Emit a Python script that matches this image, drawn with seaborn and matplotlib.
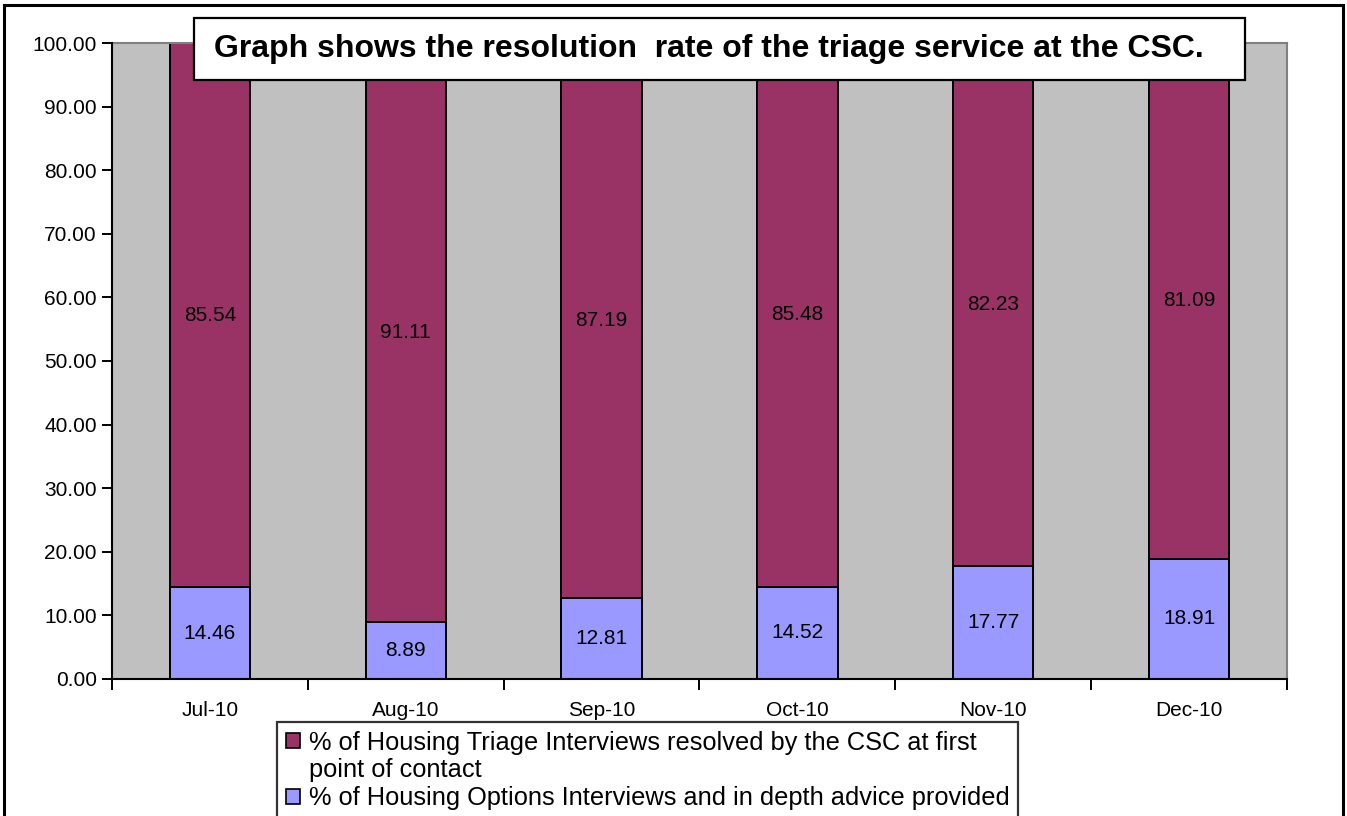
import matplotlib
matplotlib.use("Agg")
import matplotlib.pyplot as plt
import matplotlib.patches as mpatches
import seaborn as sns
import pandas as pd
import numpy as np

months = ["Jul-10", "Aug-10", "Sep-10", "Oct-10", "Nov-10", "Dec-10"]
triage_resolved = [85.54, 91.11, 87.19, 85.48, 82.23, 81.09]
options_advice = [14.46, 8.89, 12.81, 14.52, 17.77, 18.91]
y_ticks = [0, 10, 20, 30, 40, 50, 60, 70, 80, 90, 100]
title_text = "Graph shows the resolution  rate of the triage service at the CSC."
legend_triage = ["% of Housing Triage Interviews resolved by the CSC at first",
                 "point of contact"]
legend_options = "% of Housing Options Interviews and in depth advice provided"

MAROON = "#993366"
LILAC = "#9999FF"
PLOT_BG = "#C0C0C0"

sns.set_style("white")
plt.rcParams["font.family"] = ["Liberation Sans", "DejaVu Sans"]
for key in ["text.color", "xtick.color", "ytick.color", "axes.labelcolor"]:
    plt.rcParams[key] = "black"

df = pd.DataFrame({
    "month": months,
    "triage": triage_resolved,
    "options": options_advice,
})
df["total"] = df["triage"] + df["options"]

fig = plt.figure(figsize=(13.47, 8.16), dpi=100)
ax = fig.add_axes([0.0831, 0.1679, 0.8724, 0.7794])
ax.set_facecolor(PLOT_BG)

bar_w = 0.41
sns.barplot(data=df, x="month", y="total", color=MAROON, width=bar_w,
            edgecolor="black", linewidth=1.4, saturation=1, ax=ax, zorder=2)
sns.barplot(data=df, x="month", y="options", color=LILAC, width=bar_w,
            edgecolor="black", linewidth=1.4, saturation=1, ax=ax, zorder=3)

# value labels centred in each segment
for i, (t, o) in enumerate(zip(triage_resolved, options_advice)):
    ax.text(i, o + t / 2, f"{t:.2f}", ha="center", va="center", fontsize=15, zorder=5)
    ax.text(i, o / 2, f"{o:.2f}", ha="center", va="center", fontsize=15, zorder=5)

ax.set_xlim(-0.5, len(months) - 0.5)
ax.set_ylim(0, 100)
ax.set_yticks(y_ticks)
ax.set_yticklabels([f"{v:.2f}" for v in y_ticks], fontsize=15)
ax.set_xlabel("")
ax.set_ylabel("")
ax.tick_params(axis="x", which="major", length=0, labelsize=15, pad=16)
ax.set_xticks(np.arange(-0.5, len(months), 1.0), minor=True)
ax.tick_params(axis="x", which="minor", length=8, width=1.4, direction="out",
               color="black", bottom=True)
ax.tick_params(axis="y", length=7, width=1.4, direction="out", left=True,
               color="black", pad=4)

for side in ["left", "bottom"]:
    ax.spines[side].set_color("black")
    ax.spines[side].set_linewidth(1.5)
for side in ["top", "right"]:
    ax.spines[side].set_color("#808080")
    ax.spines[side].set_linewidth(1.5)
ax.spines["left"].set_zorder(6)
ax.spines["bottom"].set_zorder(6)

# title in a boxed panel overlapping the plot
fig.patches.append(mpatches.Rectangle((0.1440, 0.9020), 0.7803, 0.0760,
                                      transform=fig.transFigure,
                                      facecolor="white", edgecolor="black",
                                      linewidth=1.6, zorder=9))
fig.text(0.5264, 0.9400, title_text, ha="center", va="center",
         fontsize=23, fontweight="bold", zorder=10)

# legend: the wrapped first label continues on a row without a swatch
handles = [
    mpatches.Patch(facecolor=MAROON, edgecolor="black", linewidth=1.2),
    mpatches.Patch(facecolor="none", edgecolor="none"),
    mpatches.Patch(facecolor=LILAC, edgecolor="black", linewidth=1.2),
]
labels = [legend_triage[0], legend_triage[1], legend_options]
leg = fig.legend(handles, labels, loc="upper left",
                 bbox_to_anchor=(0.2056, 0.1155), frameon=True, fancybox=False,
                 prop={"family": "Liberation Sans", "size": 18.3},
                 handlelength=0.55, handleheight=0.55, handletextpad=0.35,
                 borderpad=0.35, labelspacing=0.15, borderaxespad=0)
leg.get_frame().set_edgecolor("black")
leg.get_frame().set_linewidth(1.6)

# outer chart border
fig.patches.append(mpatches.Rectangle((0.003, -0.01), 0.994, 1.004,
                                      transform=fig.transFigure, fill=False,
                                      edgecolor="black", linewidth=2.2))

fig.savefig("out.png", dpi=100)
